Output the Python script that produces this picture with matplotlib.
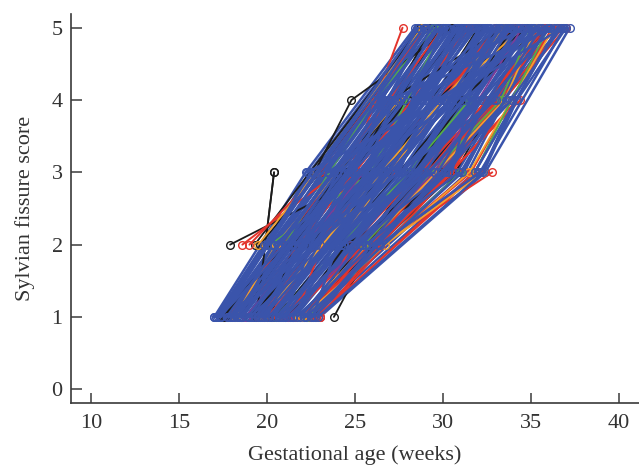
import matplotlib
matplotlib.use("Agg")
import matplotlib.pyplot as plt

N = None

# each subject: age (weeks) at which score 1, 2, 3, 4, 5 was observed (None = not scanned at that score)
blue_subjects_a = [
    (17.0, N, 22.2, N, 28.4), (17.1, 19.8, N, 26.0, N), (N, 19.9, 22.4, N, 28.6), (17.4, N, N, 26.3, 28.9),
    (N, N, 22.8, 26.5, 29.0), (17.6, N, 23.1, 26.6, N), (17.7, 20.4, N, N, 29.4), (N, 20.6, N, 27.0, 29.5),
    (18.0, N, N, N, 29.7), (N, 20.9, 23.9, 27.3, N), (18.2, N, 24.1, N, 30.1), (18.3, 21.1, N, 27.7, N),
    (N, 21.3, 24.5, N, 30.4), (18.6, N, N, 28.0, 30.6), (N, N, 24.9, 28.2, 30.8), (18.8, N, 25.2, 28.4, N),
    (18.9, 21.8, N, N, 31.1), (N, 22.0, N, 28.7, 31.3), (19.2, N, N, N, 31.5), (N, 22.3, 26.0, 29.0, N),
    (19.4, N, 26.2, N, 31.8), (19.5, 22.5, N, 29.4, N), (N, 22.7, 26.6, N, 32.2), (19.8, N, N, 29.7, 32.4),
    (N, N, 27.0, 29.9, 32.5), (20.0, N, 27.3, 30.0, N), (20.1, 23.2, N, N, 32.9), (N, 23.4, N, 30.4, 33.1),
    (20.4, N, N, N, 33.2), (N, 23.7, 28.1, 30.7, N), (20.6, N, 28.3, N, 33.6), (20.7, 23.9, N, 31.1, N),
    (N, 24.1, 28.7, N, 33.9), (21.0, N, N, 31.4, 34.1), (N, N, 29.1, 31.6, 34.3), (21.2, N, 29.3, 31.8, N),
    (21.3, 24.6, N, N, 34.6), (N, 24.8, N, 32.1, 34.8), (21.6, N, N, N, 35.0), (N, 25.1, 30.2, 32.4, N),
    (21.8, N, 30.4, N, 35.3), (21.9, 25.3, N, 32.8, N), (N, 25.5, 30.8, N, 35.7), (22.2, N, N, 33.1, 35.9),
    (N, N, 31.2, 33.3, 36.0), (22.4, N, 31.4, 33.5, N), (22.5, 26.0, N, N, 36.4), (N, 26.2, N, 33.8, 36.6),
    (22.8, N, N, N, 36.8), (N, 26.5, 32.2, 34.1, N), (23.0, N, 32.4, N, 37.2),
]

blue_subjects_b = [
    (17.1, N, N, N, 28.5), (N, 19.8, N, 26.1, 28.6), (17.3, 20.0, 22.5, N, N), (17.4, N, 22.8, N, 28.9),
    (N, 20.2, N, N, 29.1), (17.7, N, N, 26.7, N), (N, N, 23.4, N, 29.4), (17.9, 20.6, N, 27.1, 29.6),
    (N, 20.8, 23.8, N, 29.8), (18.1, N, 24.0, 27.4, 30.0), (18.3, N, N, N, 30.2), (N, 21.2, N, 27.8, 30.3),
    (18.5, 21.4, 24.6, N, N), (18.6, N, 24.8, N, 30.7), (N, 21.6, N, N, 30.9), (18.9, N, N, 28.4, N),
    (N, N, 25.5, N, 31.2), (19.1, 22.0, N, 28.8, 31.4), (N, 22.2, 25.9, N, 31.6), (19.3, N, 26.1, 29.1, 31.7),
    (19.5, N, N, N, 31.9), (N, 22.6, N, 29.5, 32.1), (19.7, 22.8, 26.7, N, N), (19.8, N, 26.9, N, 32.4),
    (N, 23.0, N, N, 32.6), (20.1, N, N, 30.1, N), (N, N, 27.6, N, 33.0), (20.3, 23.5, N, 30.5, 33.2),
    (N, 23.6, 28.0, N, 33.3), (20.5, N, 28.2, 30.8, 33.5), (20.7, N, N, N, 33.7), (N, 24.0, N, 31.2, 33.8),
    (20.9, 24.2, 28.8, N, N), (21.0, N, 29.0, N, 34.2), (N, 24.4, N, N, 34.4), (21.3, N, N, 31.9, N),
    (N, N, 29.7, N, 34.7), (21.5, 24.8, N, 32.2, 34.9), (N, 25.0, 30.1, N, 35.1), (21.7, N, 30.3, 32.5, 35.2),
    (21.9, N, N, N, 35.4), (N, 25.4, N, 32.9, 35.6), (22.1, 25.6, 30.9, N, N), (22.2, N, 31.1, N, 35.9),
    (N, 25.8, N, N, 36.1), (22.5, N, N, 33.6, N), (N, N, 31.8, N, 36.5), (22.7, 26.3, N, 33.9, 36.7),
    (N, 26.4, 32.1, N, 36.9), (22.9, N, 32.3, 34.2, 37.0),
]

blue_subjects_c = [
    (17.3, N, N, N, 33.0), (19.0, N, 28.5, N, N), (21.5, N, N, N, 31.0), (17.8, N, 26.5, N, 35.0),
    (N, 20.4, N, 30.5, N), (N, 25.0, 26.5, N, 30.0), (20.0, N, 24.0, N, 35.5), (18.4, N, N, 29.8, 36.0),
    (N, N, 23.5, N, 34.0), (N, N, 30.5, 31.5, 32.0), (22.6, 24.0, N, N, 30.8), (17.0, 21.0, N, N, 32.5),
    (N, 21.5, 29.5, N, N), (19.6, N, N, 27.0, 36.3), (N, 22.0, N, 33.0, N), (21.0, 22.5, N, N, 29.0),
    (18.0, N, 27.5, N, 31.0), (N, N, 22.3, 30.0, 36.8), (20.8, N, 25.0, 26.5, N), (N, 23.9, N, 27.2, 34.6),
]

blue_subjects_d = [
    (17.2, N, N, N, 28.6), (17.3, N, 22.6, N, 28.8), (17.5, N, N, 26.5, 29.0), (N, 20.3, N, N, 29.2),
    (17.8, N, 23.4, N, 29.5), (17.9, N, N, N, 29.7), (18.1, 20.9, N, N, 30.0), (18.2, N, 24.2, N, 30.1),
    (18.4, N, N, 27.8, 30.3), (18.5, N, N, N, 30.5), (N, 21.6, 25.0, N, 30.8), (18.8, N, N, N, 31.0),
    (19.0, N, 25.5, N, 31.2), (19.1, N, N, 28.8, 31.4), (19.3, 22.3, N, N, 31.6), (19.4, N, N, N, 31.9),
    (19.6, N, 26.5, N, 32.1), (N, 22.8, N, 29.7, 32.3), (19.9, N, N, N, 32.5), (20.0, N, 27.3, N, 32.7),
    (20.2, 23.3, N, N, 33.0), (20.3, N, N, 30.5, 33.2), (20.5, N, 28.1, N, 33.4), (20.6, N, N, N, 33.6),
    (N, 24.0, 28.6, N, 33.8), (20.9, N, N, N, 34.1), (21.1, N, 29.1, N, 34.3), (21.2, N, N, 31.8, 34.5),
    (21.4, 24.7, N, N, 34.7), (21.5, N, N, N, 34.9), (21.7, N, 30.2, N, 35.2), (N, 25.2, N, 32.6, 35.4),
    (22.0, N, N, N, 35.6), (22.1, N, 31.0, N, 35.8), (22.3, 25.8, N, N, 36.0), (22.4, N, N, 33.5, 36.3),
    (22.6, N, 31.8, N, 36.5), (22.7, N, N, N, 36.7),
]

black_subjects = [
    (19.4, N, 20.4, N, N), (N, 19.9, 20.4, N, N), (N, 17.9, 26.0, N, N), (N, N, 22.7, 24.8, 30.5),
    (23.8, N, 28.2, N, N), (N, 19.3, N, N, 28.7), (N, 19.6, 23.0, N, 28.9), (21.0, N, 30.0, N, N),
    (22.0, N, 30.7, 33.0, N), (20.5, N, N, 31.0, 35.5), (17.6, N, 24.5, N, 31.0), (18.5, N, N, 27.0, 33.5),
    (21.5, 24.5, 31.1, N, N), (N, 22.5, N, 29.5, 34.8), (19.0, N, 26.8, N, 32.0), (22.6, N, N, N, 34.0),
    (20.2, 21.5, N, 28.0, N), (17.5, N, N, 27.5, 29.8), (N, N, 25.0, N, 29.3), (21.9, N, 29.0, N, 36.0),
]

red_subjects = [
    (N, 18.6, 24.0, N, N), (21.6, N, N, N, 27.7), (23.0, 26.5, 32.8, N, N), (22.4, N, N, 34.4, N),
    (22.8, 24.8, N, N, 36.5), (22.2, N, 30.5, N, 35.5), (21.7, N, 31.5, N, N), (22.5, N, N, 32.5, 36.0),
    (21.0, N, 29.0, 33.5, N), (20.0, N, 27.0, N, 33.0), (18.5, N, 25.0, N, 31.5), (17.8, N, N, N, 30.0),
    (N, 19.0, 23.0, N, 29.0), (22.9, N, 31.8, N, N), (21.3, 25.5, N, 33.0, N), (19.5, N, N, 29.5, 34.0),
    (22.7, N, N, N, 37.0), (20.6, N, 30.8, N, N), (22.8, N, 32.0, N, N), (22.3, N, N, N, 36.8),
    (23.0, N, N, 34.2, N), (22.1, 25.8, N, N, 35.8), (21.9, N, 31.6, N, 36.2),
]

orange_subjects = [
    (N, 26.7, 32.3, N, N), (22.0, N, 31.5, N, 36.3), (N, 19.5, 22.8, N, 28.8), (21.8, N, N, 33.5, 35.3),
    (19.8, N, 26.5, N, 33.5), (N, 24.0, N, 30.0, 34.5), (18.2, 20.5, N, 27.5, N),
]

green_subjects = [
    (N, N, 31.8, N, 36.0), (N, 20.2, 25.9, N, 30.0), (N, 21.0, N, 26.1, 29.5), (22.3, N, 31.0, N, N),
    (N, 25.5, N, 33.3, 35.0), (20.5, N, 28.0, 31.5, N),
]

purple_subjects = [
    (21.2, N, 29.5, N, 34.5), (18.8, N, 25.5, N, N),
]

score_levels = [1, 2, 3, 4, 5]
x_ticks = [10, 15, 20, 25, 30, 35, 40]
y_ticks = [0, 1, 2, 3, 4, 5]

BLUE = "#3a54ab"
BLACK = "#1c1c1c"
RED = "#e3342c"
ORANGE = "#f3a12e"
GREEN = "#55ad48"
PURPLE = "#7d3c98"
AXIS_GREY = "#3a3a3a"

plt.rcParams["font.family"] = ["Liberation Serif", "DejaVu Serif"]


def draw_subjects(ax, subjects, color, lw=1.8):
    for subj in subjects:
        xs = [a for a in subj if a is not None]
        ys = [s for a, s in zip(subj, score_levels) if a is not None]
        ax.plot(xs, ys, "-o", color=color, lw=lw, ms=5.5, mfc="none", mew=1.0,
                clip_on=False, solid_capstyle="round")


fig = plt.figure(figsize=(6.39, 4.67), dpi=100)
ax = fig.add_axes([71 / 639, 64 / 467, 568 / 639, 389 / 467])

draw_subjects(ax, blue_subjects_a, BLUE)
draw_subjects(ax, blue_subjects_d, BLUE)
draw_subjects(ax, black_subjects, BLACK, lw=1.3)
draw_subjects(ax, red_subjects, RED, lw=1.4)
draw_subjects(ax, orange_subjects, ORANGE, lw=1.3)
draw_subjects(ax, green_subjects, GREEN, lw=1.3)
draw_subjects(ax, purple_subjects, PURPLE, lw=1.3)
draw_subjects(ax, blue_subjects_b, BLUE)
draw_subjects(ax, blue_subjects_c, BLUE)

ax.set_xlim(8.86, 41.14)
ax.set_ylim(-0.19, 5.19)
ax.set_xticks(x_ticks)
ax.set_yticks(y_ticks)

for side in ("top", "right"):
    ax.spines[side].set_visible(False)
for side in ("left", "bottom"):
    ax.spines[side].set_color(AXIS_GREY)
    ax.spines[side].set_linewidth(1.2)

ax.tick_params(axis="both", direction="in", colors=AXIS_GREY, width=1.1, labelsize=16,
               labelcolor="#333333")
ax.tick_params(axis="x", length=7.5, pad=8)
ax.tick_params(axis="y", length=8, pad=6)

ax.set_xlabel("Gestational age (weeks)", fontsize=16, color="#333333", labelpad=9)
ax.set_ylabel("Sylvian fissure score", fontsize=16, color="#333333", labelpad=12)

fig.savefig("out.png", dpi=100)
